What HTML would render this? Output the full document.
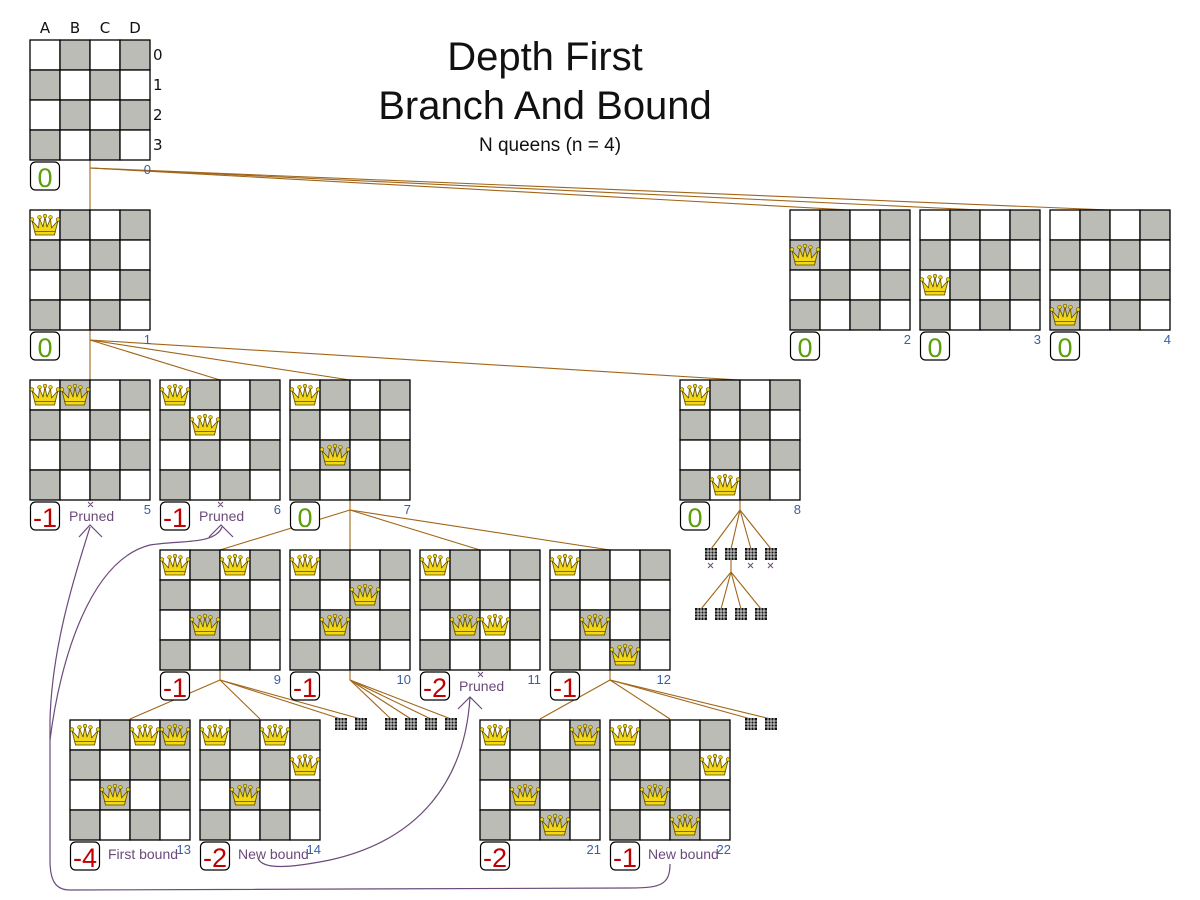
<!DOCTYPE html>
<html><head><meta charset="utf-8">
<style>
html,body{margin:0;padding:0;background:#fff;}
svg{display:block;font-family:"Liberation Sans","DejaVu Sans",sans-serif;}
.lbl{font-family:"DejaVu Sans","Liberation Sans",sans-serif;font-size:15px;fill:#111;}
.num{font-size:13px;fill:#3a5f9e;text-anchor:end;}
.sc{font-size:27px;text-anchor:middle;}
.g{fill:#5a9e0a}.r{fill:#c00000}
.pt{font-size:14px;fill:#6b4a7a;}
</style></head><body>
<svg id="s" width="1200" height="900" viewBox="0 0 1200 900" xmlns="http://www.w3.org/2000/svg">
<defs>
<g id="q">
<polygon points="5.5,25 2,10.5 8.5,18 9.5,8.5 13,17 15,7 17,17 20.5,8.5 21.5,18 28,10.5 24.5,25" fill="#f3d81a" stroke="#5a4a00" stroke-width="0.8" stroke-linejoin="round"/>
<line x1="5" y1="21.5" x2="25" y2="21.5" stroke="#5a4a00" stroke-width="0.8"/>
<circle cx="2" cy="9.5" r="1.8" fill="#f3d81a" stroke="#5a4a00" stroke-width="0.6"/>
<circle cx="9.5" cy="7.3" r="1.8" fill="#f3d81a" stroke="#5a4a00" stroke-width="0.6"/>
<circle cx="15" cy="6" r="1.8" fill="#f3d81a" stroke="#5a4a00" stroke-width="0.6"/>
<circle cx="20.5" cy="7.3" r="1.8" fill="#f3d81a" stroke="#5a4a00" stroke-width="0.6"/>
<circle cx="28" cy="9.5" r="1.8" fill="#f3d81a" stroke="#5a4a00" stroke-width="0.6"/>
</g>
<g id="sb">
<rect x="0" y="0" width="12" height="12" fill="#111"/>
<path d="M3 0V12M6 0V12M9 0V12M0 3H12M0 6H12M0 9H12" stroke="#fff" stroke-width="0.8"/>
</g>
</defs>
<g id="lines" stroke="#a0661a" stroke-width="1.1" fill="none"></g>
<g id="boards"></g>
<g stroke="#6b4a7a" stroke-width="1.2" fill="none">
<path d="M670,864 C670,885 660,888 630,888 L70,890 C55,890 50,880 50,860 L50,720 C52,640 80,560 90,527"/>
<path d="M50,740 C60,660 90,560 150,545 C180,540 215,545 222,527"/>
<path d="M79,537 L90,525 L102,537 M209,537 L221,525 L233,537"/>
<path d="M258,858 C262,870 290,868 330,860 C420,840 465,780 470,697"/>
<path d="M458,709 L470,697 L482,709"/>
</g>
<g stroke="#6b4a7a" stroke-width="1">
<path d="M88,502l5,5m0,-5l-5,5M218,502l5,5m0,-5l-5,5M478,672l5,5m0,-5l-5,5M708,563l5,5m0,-5l-5,5M748,563l5,5m0,-5l-5,5M768,563l5,5m0,-5l-5,5"/>
</g>
<text class="pt" x="69" y="521">Pruned</text>
<text class="pt" x="199" y="521">Pruned</text>
<text class="pt" x="459" y="691">Pruned</text>
<text class="pt" x="108" y="859">First bound</text>
<text class="pt" x="238" y="859">New bound</text>
<text class="pt" x="648" y="859">New bound</text>
<text class="lbl" x="45" y="33" text-anchor="middle">A</text>
<text class="lbl" x="75" y="33" text-anchor="middle">B</text>
<text class="lbl" x="105" y="33" text-anchor="middle">C</text>
<text class="lbl" x="135" y="33" text-anchor="middle">D</text>
<text class="lbl" x="153" y="60">0</text>
<text class="lbl" x="153" y="90">1</text>
<text class="lbl" x="153" y="120">2</text>
<text class="lbl" x="153" y="150">3</text>
<text x="545" y="70" font-size="40" text-anchor="middle" fill="#111">Depth First</text>
<text x="545" y="119" font-size="40" text-anchor="middle" fill="#111">Branch And Bound</text>
<text x="550" y="151" font-size="19" text-anchor="middle" fill="#111">N queens (n = 4)</text>
<g id="texts">
<text class="sc g" x="45" y="187">0</text><text class="num" x="151" y="174">0</text>
<text class="sc g" x="45" y="357">0</text><text class="num" x="151" y="344">1</text>
<text class="sc g" x="805" y="357">0</text><text class="num" x="911" y="344">2</text>
<text class="sc g" x="935" y="357">0</text><text class="num" x="1041" y="344">3</text>
<text class="sc g" x="1065" y="357">0</text><text class="num" x="1171" y="344">4</text>
<text class="sc r" x="45" y="527">-1</text><text class="num" x="151" y="514">5</text>
<text class="sc r" x="175" y="527">-1</text><text class="num" x="281" y="514">6</text>
<text class="sc g" x="305" y="527">0</text><text class="num" x="411" y="514">7</text>
<text class="sc g" x="695" y="527">0</text><text class="num" x="801" y="514">8</text>
<text class="sc r" x="175" y="697">-1</text><text class="num" x="281" y="684">9</text>
<text class="sc r" x="305" y="697">-1</text><text class="num" x="411" y="684">10</text>
<text class="sc r" x="435" y="697">-2</text><text class="num" x="541" y="684">11</text>
<text class="sc r" x="565" y="697">-1</text><text class="num" x="671" y="684">12</text>
<text class="sc r" x="85" y="867">-4</text><text class="num" x="191" y="854">13</text>
<text class="sc r" x="215" y="867">-2</text><text class="num" x="321" y="854">14</text>
<text class="sc r" x="495" y="867">-2</text><text class="num" x="601" y="854">21</text>
<text class="sc r" x="625" y="867">-1</text><text class="num" x="731" y="854">22</text>
</g>
</svg>
<script>
var NS="http://www.w3.org/2000/svg";
function el(t,a,p){var e=document.createElementNS(NS,t);for(var k in a)e.setAttribute(k,a[k]);p.appendChild(e);return e;}
var B=document.getElementById("boards"),L=document.getElementById("lines");
var boards=[[30,40,[]],[30,210,[0]],[790,210,[1]],[920,210,[2]],[1050,210,[3]],
[30,380,[0,0]],[160,380,[0,1]],[290,380,[0,2]],[680,380,[0,3]],
[160,550,[0,2,0]],[290,550,[0,2,1]],[420,550,[0,2,2]],[550,550,[0,2,3]],
[70,720,[0,2,0,0]],[200,720,[0,2,0,1]],[480,720,[0,2,3,0]],[610,720,[0,2,3,1]]];
function line(a,b,c,d){el("line",{x1:a,y1:b,x2:c,y2:d},L);}
line(90,160,90,210);[850,980,1110].forEach(function(x){line(90,168,x,210);});
line(90,330,90,380);[220,350,740].forEach(function(x){line(90,340,x,380);});
line(350,500,350,510);[220,350,480,610].forEach(function(x){line(350,510,x,550);});
line(220,670,220,680);[130,260,341,361].forEach(function(x){line(220,680,x,719);});
line(350,670,350,680);[391,411,431,451].forEach(function(x){line(350,680,x,719);});
line(610,670,610,680);[540,670,751,771].forEach(function(x){line(610,680,x,719);});
line(740,500,740,510);[711,731,751,771].forEach(function(x){line(740,510,x,549);});
line(731,560,731,572);[701,721,741,761].forEach(function(x){line(731,572,x,609);});
boards.forEach(function(b){
 var x=b[0],y=b[1],g=el("g",{},B);
 for(var r=0;r<4;r++)for(var c=0;c<4;c++)
  el("rect",{x:x+c*30,y:y+r*30,width:30,height:30,fill:((r+c)%2)?"#bbbcb6":"#fff",stroke:"#000","stroke-width":1.3},g);
 b[2].forEach(function(r,c){el("use",{href:"#q",x:x+c*30,y:y+r*30},g);});
 el("rect",{x:x+0.5,y:y+122,width:29,height:28,rx:5,fill:"#fff",stroke:"#000","stroke-width":1.2},g);
});
[[335,718],[355,718],[385,718],[405,718],[425,718],[445,718],[745,718],[765,718],
 [705,548],[725,548],[745,548],[765,548],[695,608],[715,608],[735,608],[755,608]].forEach(function(p){
 el("use",{href:"#sb",x:p[0],y:p[1]},B);});
</script>
</body></html>
